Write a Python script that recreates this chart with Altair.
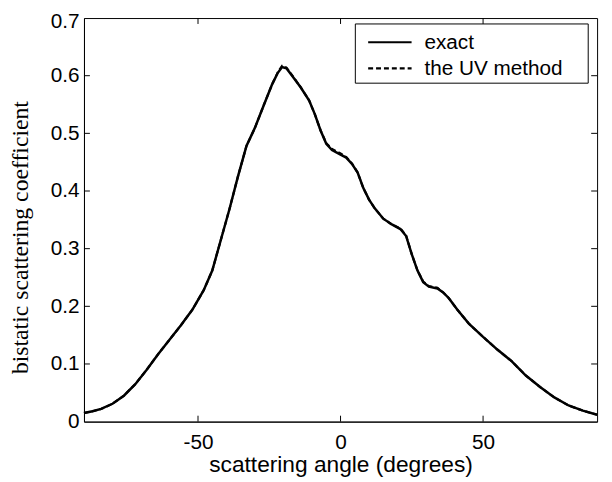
import altair as alt
import pandas as pd

# ---- data ----
angles = [-90, -87, -84, -80, -76, -72, -68, -64, -60, -56, -52, -48, -45, -42, -39,
          -36, -33, -30, -27, -24, -22, -20.5, -19, -17, -14, -11, -9, -7, -5, -3,
          0, 2, 4, 6, 8, 10, 12, 15, 18, 21, 23, 25, 27, 29, 31, 34, 36, 38, 41,
          45, 50, 55, 60, 65, 70, 75, 80, 85, 90]
exact = [0.015, 0.018, 0.022, 0.031, 0.045, 0.065, 0.090, 0.117, 0.142, 0.167, 0.194,
         0.228, 0.262, 0.315, 0.368, 0.425, 0.478, 0.510, 0.548, 0.585, 0.605, 0.615,
         0.613, 0.600, 0.580, 0.557, 0.533, 0.505, 0.482, 0.471, 0.463, 0.458, 0.447,
         0.432, 0.405, 0.385, 0.370, 0.352, 0.342, 0.334, 0.322, 0.290, 0.262, 0.242,
         0.234, 0.231, 0.224, 0.214, 0.194, 0.170, 0.147, 0.125, 0.105, 0.080, 0.060,
         0.042, 0.028, 0.019, 0.012]
uv_method = [0.015, 0.018, 0.022, 0.031, 0.045, 0.065, 0.090, 0.117, 0.142, 0.167, 0.194,
             0.228, 0.262, 0.315, 0.368, 0.425, 0.478, 0.510, 0.548, 0.585, 0.606, 0.617,
             0.614, 0.601, 0.580, 0.557, 0.533, 0.505, 0.483, 0.473, 0.465, 0.459, 0.448,
             0.432, 0.405, 0.385, 0.370, 0.352, 0.342, 0.335, 0.323, 0.290, 0.262, 0.243,
             0.235, 0.232, 0.224, 0.214, 0.194, 0.170, 0.147, 0.125, 0.105, 0.080, 0.060,
             0.042, 0.028, 0.019, 0.012]
legend_labels = ["exact", "the UV method"]
x_ticks = [-50, 0, 50]
y_ticks = [0, 0.1, 0.2, 0.3, 0.4, 0.5, 0.6, 0.7]
y_inner_ticks = [0.1, 0.2, 0.3, 0.4, 0.5, 0.6]

W, H = 520, 409
SANS = "Liberation Sans"
SERIF = "Liberation Serif"

df_exact = pd.DataFrame({"angle": angles, "value": exact})
df_uv = pd.DataFrame({"angle": angles, "value": uv_method})

xs = alt.Scale(domain=[-90, 90], nice=False, zero=False)
ys = alt.Scale(domain=[0, 0.7], nice=False, zero=False)

x_axis = alt.Axis(values=x_ticks, labelExpr="toString(datum.value)",
                  title="scattering angle (degrees)", grid=False,
                  tickSize=0, labelPadding=10, labelFont=SANS, labelFontSize=21,
                  labelColor="black", domainColor="black", domainWidth=1,
                  titleFont=SANS, titleFontSize=23, titleFontWeight="normal",
                  titleColor="black", titleY=51, titleBaseline="alphabetic")
y_axis = alt.Axis(values=y_ticks, format=".1~f", title="bistatic scattering coefficient",
                  grid=False, tickSize=0, labelPadding=5, labelFont=SANS,
                  labelFontSize=21, labelColor="black", domainColor="black",
                  labelOffset={"condition": {"test": "datum.value >= 0.69", "value": 4},
                               "value": 0},
                  domainWidth=1, titleFont=SERIF, titleFontSize=24,
                  titleFontWeight="normal", titleColor="black", titleAngle=270,
                  titleX=-57, titleY=222, titleAlign="center",
                  titleBaseline="alphabetic")

X = alt.X("angle:Q", scale=xs, axis=x_axis)
Y = alt.Y("value:Q", scale=ys, axis=y_axis)

uv_line = alt.Chart(df_uv).mark_line(color="black", strokeWidth=2.2, strokeDash=[5, 3]).encode(
    x=X, y=Y)
exact_line = alt.Chart(df_exact).mark_line(color="black", strokeWidth=2.5).encode(
    x=X, y=Y)

xt = pd.DataFrame({"angle": x_ticks})
yt = pd.DataFrame({"value": y_inner_ticks})
tick_style = dict(color="black", strokeWidth=1)
ticks = [
    alt.Chart(xt).mark_rule(**tick_style).encode(x=X, y=alt.value(H), y2=alt.value(H - 6)),
    alt.Chart(xt).mark_rule(**tick_style).encode(x=X, y=alt.value(0), y2=alt.value(6)),
    alt.Chart(yt).mark_rule(**tick_style).encode(y=Y, x=alt.value(0), x2=alt.value(6)),
    alt.Chart(yt).mark_rule(**tick_style).encode(y=Y, x=alt.value(W), x2=alt.value(W - 6)),
]

# ---- legend box (drawn inside the plot, upper right) ----
one = pd.DataFrame({"k": [0]})
legend_box = alt.Chart(one).mark_rect(fill="white", stroke="black", strokeWidth=1).encode(
    x=alt.value(275), x2=alt.value(511), y=alt.value(6), y2=alt.value(66))
legend_layers = [legend_box]
dashes = [[1, 0], [5, 3]]
rows_y = [24.5, 51]
for lab, dash, ry in zip(legend_labels, dashes, rows_y):
    legend_layers.append(
        alt.Chart(one).mark_rule(color="black", strokeWidth=2.2, strokeDash=dash).encode(
            x=alt.value(288), x2=alt.value(332), y=alt.value(ry)))
    legend_layers.append(
        alt.Chart(one).mark_text(align="left", baseline="alphabetic", font=SANS,
                                 fontSize=21, color="black").encode(
            x=alt.value(345), y=alt.value(ry + 6.5), text=alt.value(lab)))

chart = alt.layer(uv_line, exact_line, *ticks, *legend_layers).properties(
    width=W, height=H,
    background="white",
    autosize=alt.AutoSizeParams(type="none"),
    padding={"left": 77, "top": 7, "right": 7, "bottom": 58},
).configure_view(stroke="black", strokeWidth=1)

chart.save("out.html", embed_options={"renderer": "svg", "actions": False})
